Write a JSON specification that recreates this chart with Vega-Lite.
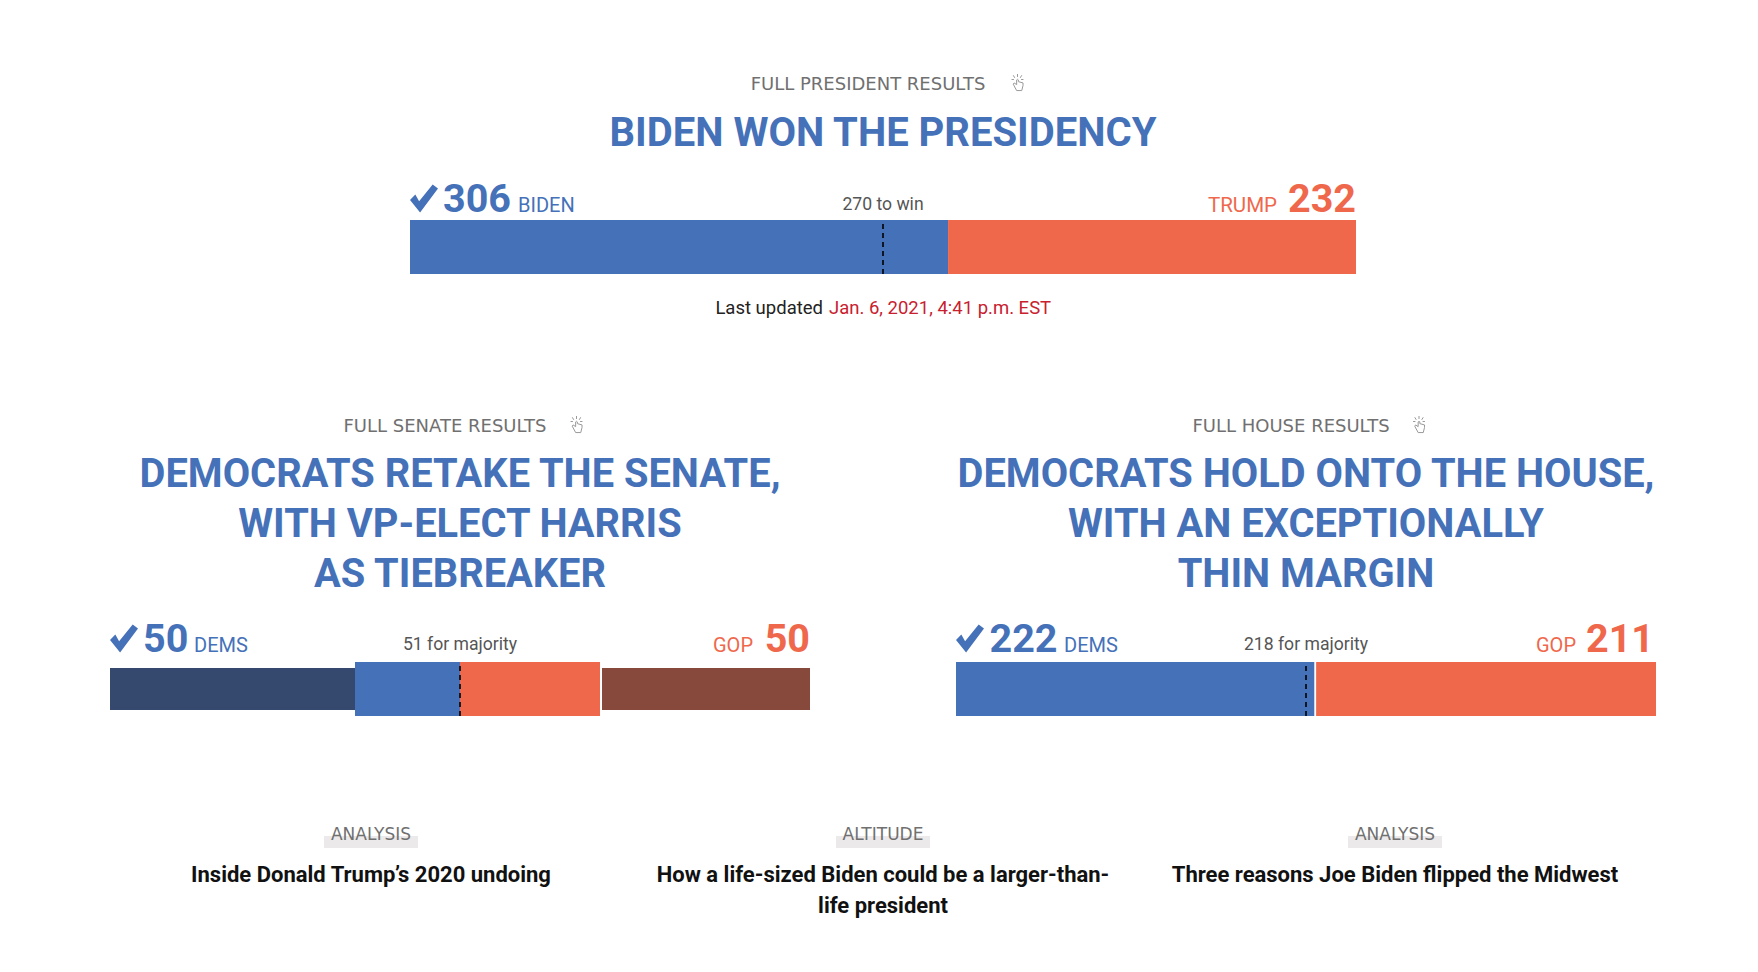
{"$schema":"https://vega.github.io/schema/vega-lite/v6.json","width":1758,"height":972,"autosize":{"type":"fit","contains":"padding"},"padding":0,"background":"#ffffff","config":{"view":{"stroke":null}},
"datasets":{
"segments":[
{"chamber":"President","party":"Biden","tier":"full","start":0,"end":306},
{"chamber":"President","party":"Trump","tier":"full","start":306,"end":538},
{"chamber":"Senate","party":"Dems not up","tier":"outer","start":0,"end":35},
{"chamber":"Senate","party":"Dems","tier":"full","start":35,"end":50},
{"chamber":"Senate","party":"GOP","tier":"full","start":50,"end":70},
{"chamber":"Senate","party":"GOP not up","tier":"outer","start":70,"end":100},
{"chamber":"House","party":"Dems","tier":"full","start":0,"end":222},
{"chamber":"House","party":"GOP","tier":"full","start":222,"end":433}],
"marks":[
{"chamber":"President","threshold":269},
{"chamber":"Senate","threshold":50,"divider":70.14},
{"chamber":"House","threshold":216.5,"divider":222.2}],
"labels":[
{"chamber":"President","role":"kicker","seats":269,"text":"FULL PRESIDENT RESULTS"},
{"chamber":"President","role":"headline","seats":269,"text":"BIDEN WON THE PRESIDENCY"},
{"chamber":"President","role":"threshold","seats":269,"text":"270 to win"},
{"chamber":"President","role":"leftNum","seats":0,"text":"306"},
{"chamber":"President","role":"leftName","seats":0,"text":"BIDEN"},
{"chamber":"President","role":"rightName","seats":538,"text":"TRUMP"},
{"chamber":"President","role":"rightNum","seats":538,"text":"232"},
{"chamber":"President","role":"updated","seats":269,"text":"Last updated"},
{"chamber":"President","role":"updatedDate","seats":269,"text":"Jan. 6, 2021, 4:41 p.m. EST"},
{"chamber":"Senate","role":"kicker","seats":50,"text":"FULL SENATE RESULTS"},
{"chamber":"Senate","role":"headline","seats":50,"text":"DEMOCRATS RETAKE THE SENATE,\nWITH VP-ELECT HARRIS\nAS TIEBREAKER"},
{"chamber":"Senate","role":"threshold","seats":50,"text":"51 for majority"},
{"chamber":"Senate","role":"leftNum","seats":0,"text":"50"},
{"chamber":"Senate","role":"leftName","seats":0,"text":"DEMS"},
{"chamber":"Senate","role":"rightName","seats":100,"text":"GOP"},
{"chamber":"Senate","role":"rightNum","seats":100,"text":"50"},
{"chamber":"House","role":"kicker","seats":216.5,"text":"FULL HOUSE RESULTS"},
{"chamber":"House","role":"headline","seats":216.5,"text":"DEMOCRATS HOLD ONTO THE HOUSE,\nWITH AN EXCEPTIONALLY\nTHIN MARGIN"},
{"chamber":"House","role":"threshold","seats":216.5,"text":"218 for majority"},
{"chamber":"House","role":"leftNum","seats":0,"text":"222"},
{"chamber":"House","role":"leftName","seats":0,"text":"DEMS"},
{"chamber":"House","role":"rightName","seats":433,"text":"GOP"},
{"chamber":"House","role":"rightNum","seats":433,"text":"211"}],
"stories":[
{"section":"Related","column":"1","kicker":"ANALYSIS","title":"Inside Donald Trump’s 2020 undoing"},
{"section":"Related","column":"2","kicker":"ALTITUDE","title":"How a life-sized Biden could be a larger-than-\nlife president"},
{"section":"Related","column":"3","kicker":"ANALYSIS","title":"Three reasons Joe Biden flipped the Midwest"}]
},
"layer":[
{"encoding":{"x":{"field":"seats","type":"quantitative","axis":null,"scale":{"domain":[0,538],"range":[410,1356],"nice":false}},"y":{"field":"chamber","type":"nominal","axis":null,"scale":{"type":"point","domain":["President"],"range":[247,247]}}},
"layer":[
{"data":{"name":"segments"},"transform":[{"filter":"datum.chamber=='President'"}],"mark":{"type":"bar","height":54},"encoding":{"x":{"field":"start","type":"quantitative"},"x2":{"field":"end"},"color":{"field":"party","type":"nominal","legend":null,"scale":{"domain":["Biden","Trump"],"range":["#4571b9","#ef684c"]}}}},
{"data":{"name":"labels"},"transform":[{"filter":"datum.chamber=='President'&&datum.role=='kicker'"}],"mark":{"type":"text","font":"DejaVu Sans","fontSize":18,"color":"#707070","dx":-15,"dy":-157,"baseline":"alphabetic"},"encoding":{"text":{"field":"text"}}},
{"data":{"name":"labels"},"transform":[{"filter":"datum.chamber=='President'&&datum.role=='kicker'"}],"mark":{"type":"point","filled":false,"stroke":"#999999","strokeWidth":1,"opacity":1,"size":289,"xOffset":134.5,"yOffset":-164.5,"shape":"M0 -1V-.65M-.5 -.85L-.32 -.55M.5 -.85L.32 -.55M-.7 -.35H-.42M.7 -.35H.42M-.1 -.3V.25L-.4 .05L-.5 .2L-.1 .95H.5L.65 .35V.05L.1 -.1V-.3Q0 -.45 -.1 -.3Z"}},
{"data":{"name":"labels"},"transform":[{"filter":"datum.chamber=='President'&&datum.role=='headline'"}],"mark":{"type":"text","font":"Roboto","fontWeight":"bold","fontSize":40,"color":"#4571b9","dy":-101,"baseline":"alphabetic"},"encoding":{"text":{"field":"text"}}},
{"data":{"name":"labels"},"transform":[{"filter":"datum.chamber=='President'&&datum.role=='threshold'"}],"mark":{"type":"text","font":"Roboto","fontSize":17.6,"color":"#555555","dy":-37,"baseline":"alphabetic"},"encoding":{"text":{"field":"text"}}},
{"data":{"name":"labels"},"transform":[{"filter":"datum.chamber=='President'&&datum.role=='leftNum'"}],"mark":{"type":"point","filled":true,"fill":"#4571b9","stroke":null,"opacity":1,"size":784,"xOffset":14,"yOffset":-48.5,"shape":"M-1 .1L-.62 -.28L-.35 .2L.62 -1L1 -.72L-.28 1Z"}},
{"data":{"name":"labels"},"transform":[{"filter":"datum.chamber=='President'&&datum.role=='leftNum'"}],"mark":{"type":"text","font":"Roboto","fontWeight":"bold","fontSize":39.5,"color":"#4571b9","align":"left","dx":33,"dy":-35,"baseline":"alphabetic"},"encoding":{"text":{"field":"text"}}},
{"data":{"name":"labels"},"transform":[{"filter":"datum.chamber=='President'&&datum.role=='leftName'"}],"mark":{"type":"text","font":"Roboto","fontSize":20,"color":"#4571b9","align":"left","dx":108,"dy":-35,"baseline":"alphabetic"},"encoding":{"text":{"field":"text"}}},
{"data":{"name":"labels"},"transform":[{"filter":"datum.chamber=='President'&&datum.role=='rightName'"}],"mark":{"type":"text","font":"Roboto","fontSize":20.5,"color":"#ef684c","align":"right","dx":-79,"dy":-35,"baseline":"alphabetic"},"encoding":{"text":{"field":"text"}}},
{"data":{"name":"labels"},"transform":[{"filter":"datum.chamber=='President'&&datum.role=='rightNum'"}],"mark":{"type":"text","font":"Roboto","fontWeight":"bold","fontSize":39.5,"color":"#ef684c","align":"right","dy":-35,"baseline":"alphabetic"},"encoding":{"text":{"field":"text"}}},
{"data":{"name":"labels"},"transform":[{"filter":"datum.chamber=='President'&&datum.role=='updated'"}],"mark":{"type":"text","font":"Roboto","fontSize":18.5,"color":"#222222","align":"right","dx":-60,"dy":67,"baseline":"alphabetic"},"encoding":{"text":{"field":"text"}}},
{"data":{"name":"labels"},"transform":[{"filter":"datum.chamber=='President'&&datum.role=='updatedDate'"}],"mark":{"type":"text","font":"Roboto","fontSize":18.5,"color":"#c8202e","align":"left","dx":-54,"dy":67,"baseline":"alphabetic"},"encoding":{"text":{"field":"text"}}}
]},
{"data":{"name":"marks"},"transform":[{"filter":"datum.chamber=='President'"}],"mark":{"type":"rule","color":"#000000","strokeWidth":1.6,"strokeDash":[5,4]},"encoding":{"x":{"field":"threshold","type":"quantitative","axis":null,"scale":{"domain":[0,538],"range":[410,1356],"nice":false}},"y":{"datum":0,"type":"quantitative","axis":null,"scale":{"domain":[0,1],"range":[274,220],"nice":false}},"y2":{"datum":1}}},

{"encoding":{"x":{"field":"seats","type":"quantitative","axis":null,"scale":{"domain":[0,100],"range":[110,810],"nice":false}},"y":{"field":"chamber","type":"nominal","axis":null,"scale":{"type":"point","domain":["Senate"],"range":[689,689]}}},
"layer":[
{"data":{"name":"segments"},"transform":[{"filter":"datum.chamber=='Senate'&&datum.tier=='outer'"}],"mark":{"type":"bar","height":42},"encoding":{"x":{"field":"start","type":"quantitative"},"x2":{"field":"end"},"color":{"field":"party","type":"nominal","legend":null,"scale":{"domain":["Dems not up","GOP not up"],"range":["#35496f","#87493c"]}}}},
{"data":{"name":"segments"},"transform":[{"filter":"datum.chamber=='Senate'&&datum.tier=='full'"}],"mark":{"type":"bar","height":54},"encoding":{"x":{"field":"start","type":"quantitative"},"x2":{"field":"end"},"fill":{"field":"party","type":"nominal","legend":null,"scale":{"domain":["Dems","GOP"],"range":["#4571b9","#ef684c"]}}}},
{"data":{"name":"labels"},"transform":[{"filter":"datum.chamber=='Senate'&&datum.role=='kicker'"}],"mark":{"type":"text","font":"DejaVu Sans","fontSize":18,"color":"#707070","dx":-15,"dy":-257,"baseline":"alphabetic"},"encoding":{"text":{"field":"text"}}},
{"data":{"name":"labels"},"transform":[{"filter":"datum.chamber=='Senate'&&datum.role=='kicker'"}],"mark":{"type":"point","filled":false,"stroke":"#999999","strokeWidth":1,"opacity":1,"size":289,"xOffset":116.5,"yOffset":-264.5,"shape":"M0 -1V-.65M-.5 -.85L-.32 -.55M.5 -.85L.32 -.55M-.7 -.35H-.42M.7 -.35H.42M-.1 -.3V.25L-.4 .05L-.5 .2L-.1 .95H.5L.65 .35V.05L.1 -.1V-.3Q0 -.45 -.1 -.3Z"}},
{"data":{"name":"labels"},"transform":[{"filter":"datum.chamber=='Senate'&&datum.role=='headline'"}],"mark":{"type":"text","font":"Roboto","fontWeight":"bold","fontSize":39.8,"color":"#4571b9","dy":-202,"lineBreak":"\n","lineHeight":50,"baseline":"alphabetic"},"encoding":{"text":{"field":"text"}}},
{"data":{"name":"labels"},"transform":[{"filter":"datum.chamber=='Senate'&&datum.role=='threshold'"}],"mark":{"type":"text","font":"Roboto","fontSize":17.6,"color":"#555555","dy":-39,"baseline":"alphabetic"},"encoding":{"text":{"field":"text"}}},
{"data":{"name":"labels"},"transform":[{"filter":"datum.chamber=='Senate'&&datum.role=='leftNum'"}],"mark":{"type":"point","filled":true,"fill":"#4571b9","stroke":null,"opacity":1,"size":784,"xOffset":14,"yOffset":-50.5,"shape":"M-1 .1L-.62 -.28L-.35 .2L.62 -1L1 -.72L-.28 1Z"}},
{"data":{"name":"labels"},"transform":[{"filter":"datum.chamber=='Senate'&&datum.role=='leftNum'"}],"mark":{"type":"text","font":"Roboto","fontWeight":"bold","fontSize":39.5,"color":"#4571b9","align":"left","dx":33,"dy":-37,"baseline":"alphabetic"},"encoding":{"text":{"field":"text"}}},
{"data":{"name":"labels"},"transform":[{"filter":"datum.chamber=='Senate'&&datum.role=='leftName'"}],"mark":{"type":"text","font":"Roboto","fontSize":20,"color":"#4571b9","align":"left","dx":84,"dy":-37,"baseline":"alphabetic"},"encoding":{"text":{"field":"text"}}},
{"data":{"name":"labels"},"transform":[{"filter":"datum.chamber=='Senate'&&datum.role=='rightName'"}],"mark":{"type":"text","font":"Roboto","fontSize":20,"color":"#ef684c","align":"right","dx":-57,"dy":-37,"baseline":"alphabetic"},"encoding":{"text":{"field":"text"}}},
{"data":{"name":"labels"},"transform":[{"filter":"datum.chamber=='Senate'&&datum.role=='rightNum'"}],"mark":{"type":"text","font":"Roboto","fontWeight":"bold","fontSize":39.5,"color":"#ef684c","align":"right","dy":-37,"baseline":"alphabetic"},"encoding":{"text":{"field":"text"}}}
]},
{"data":{"name":"marks"},"transform":[{"filter":"datum.chamber=='Senate'"}],"encoding":{"y":{"datum":0,"type":"quantitative","axis":null,"scale":{"domain":[0,1],"range":[716,662],"nice":false}},"y2":{"datum":1}},
"layer":[
{"mark":{"type":"rule","color":"#ffffff","strokeWidth":2},"encoding":{"x":{"field":"divider","type":"quantitative","axis":null,"scale":{"domain":[0,100],"range":[110,810],"nice":false}}}},
{"mark":{"type":"rule","color":"#000000","strokeWidth":1.6,"strokeDash":[5,4]},"encoding":{"x":{"field":"threshold","type":"quantitative","axis":null,"scale":{"domain":[0,100],"range":[110,810],"nice":false}}}}
]},

{"encoding":{"x":{"field":"seats","type":"quantitative","axis":null,"scale":{"domain":[0,433],"range":[956,1656],"nice":false}},"y":{"field":"chamber","type":"nominal","axis":null,"scale":{"type":"point","domain":["House"],"range":[689,689]}}},
"layer":[
{"data":{"name":"segments"},"transform":[{"filter":"datum.chamber=='House'"}],"mark":{"type":"bar","height":54},"encoding":{"x":{"field":"start","type":"quantitative"},"x2":{"field":"end"},"color":{"field":"party","type":"nominal","legend":null,"scale":{"domain":["Dems","GOP"],"range":["#4571b9","#ef684c"]}}}},
{"data":{"name":"labels"},"transform":[{"filter":"datum.chamber=='House'&&datum.role=='kicker'"}],"mark":{"type":"text","font":"DejaVu Sans","fontSize":18,"color":"#707070","dx":-15,"dy":-257,"baseline":"alphabetic"},"encoding":{"text":{"field":"text"}}},
{"data":{"name":"labels"},"transform":[{"filter":"datum.chamber=='House'&&datum.role=='kicker'"}],"mark":{"type":"point","filled":false,"stroke":"#999999","strokeWidth":1,"opacity":1,"size":289,"xOffset":113,"yOffset":-264.5,"shape":"M0 -1V-.65M-.5 -.85L-.32 -.55M.5 -.85L.32 -.55M-.7 -.35H-.42M.7 -.35H.42M-.1 -.3V.25L-.4 .05L-.5 .2L-.1 .95H.5L.65 .35V.05L.1 -.1V-.3Q0 -.45 -.1 -.3Z"}},
{"data":{"name":"labels"},"transform":[{"filter":"datum.chamber=='House'&&datum.role=='headline'"}],"mark":{"type":"text","font":"Roboto","fontWeight":"bold","fontSize":39.8,"color":"#4571b9","dy":-202,"lineBreak":"\n","lineHeight":50,"baseline":"alphabetic"},"encoding":{"text":{"field":"text"}}},
{"data":{"name":"labels"},"transform":[{"filter":"datum.chamber=='House'&&datum.role=='threshold'"}],"mark":{"type":"text","font":"Roboto","fontSize":17.6,"color":"#555555","dy":-39,"baseline":"alphabetic"},"encoding":{"text":{"field":"text"}}},
{"data":{"name":"labels"},"transform":[{"filter":"datum.chamber=='House'&&datum.role=='leftNum'"}],"mark":{"type":"point","filled":true,"fill":"#4571b9","stroke":null,"opacity":1,"size":784,"xOffset":14,"yOffset":-50.5,"shape":"M-1 .1L-.62 -.28L-.35 .2L.62 -1L1 -.72L-.28 1Z"}},
{"data":{"name":"labels"},"transform":[{"filter":"datum.chamber=='House'&&datum.role=='leftNum'"}],"mark":{"type":"text","font":"Roboto","fontWeight":"bold","fontSize":39.5,"color":"#4571b9","align":"left","dx":33.5,"dy":-37,"baseline":"alphabetic"},"encoding":{"text":{"field":"text"}}},
{"data":{"name":"labels"},"transform":[{"filter":"datum.chamber=='House'&&datum.role=='leftName'"}],"mark":{"type":"text","font":"Roboto","fontSize":20,"color":"#4571b9","align":"left","dx":108,"dy":-37,"baseline":"alphabetic"},"encoding":{"text":{"field":"text"}}},
{"data":{"name":"labels"},"transform":[{"filter":"datum.chamber=='House'&&datum.role=='rightName'"}],"mark":{"type":"text","font":"Roboto","fontSize":20,"color":"#ef684c","align":"right","dx":-80,"dy":-37,"baseline":"alphabetic"},"encoding":{"text":{"field":"text"}}},
{"data":{"name":"labels"},"transform":[{"filter":"datum.chamber=='House'&&datum.role=='rightNum'"}],"mark":{"type":"text","font":"Roboto","fontWeight":"bold","fontSize":39.5,"color":"#ef684c","align":"right","dx":-2,"dy":-37,"baseline":"alphabetic"},"encoding":{"text":{"field":"text"}}}
]},
{"data":{"name":"marks"},"transform":[{"filter":"datum.chamber=='House'"}],"encoding":{"y":{"datum":0,"type":"quantitative","axis":null,"scale":{"domain":[0,1],"range":[716,662],"nice":false}},"y2":{"datum":1}},
"layer":[
{"mark":{"type":"rule","color":"#ffffff","strokeWidth":1.8},"encoding":{"x":{"field":"divider","type":"quantitative","axis":null,"scale":{"domain":[0,433],"range":[956,1656],"nice":false}}}},
{"mark":{"type":"rule","color":"#000000","strokeWidth":1.6,"strokeDash":[5,4]},"encoding":{"x":{"field":"threshold","type":"quantitative","axis":null,"scale":{"domain":[0,433],"range":[956,1656],"nice":false}}}}
]},

{"data":{"name":"stories"},"encoding":{"x":{"field":"column","type":"nominal","axis":null,"scale":{"type":"point","padding":0,"domain":["1","2","3"],"range":[371,1395]}},"y":{"field":"section","type":"nominal","axis":null,"scale":{"type":"point","domain":["Related"],"range":[840,840]}}},
"layer":[
{"mark":{"type":"bar","color":"#ebe9e9","width":94,"height":12,"yOffset":2}},
{"mark":{"type":"text","font":"DejaVu Sans","fontSize":17,"color":"#707070","baseline":"alphabetic"},"encoding":{"text":{"field":"kicker"}}},
{"mark":{"type":"text","font":"Roboto","fontWeight":"bold","fontSize":22,"color":"#111111","dy":42,"lineBreak":"\n","lineHeight":31,"baseline":"alphabetic"},"encoding":{"text":{"field":"title"}}}
]}
],
"resolve":{"scale":{"x":"independent","y":"independent","color":"independent","fill":"independent"}}}
